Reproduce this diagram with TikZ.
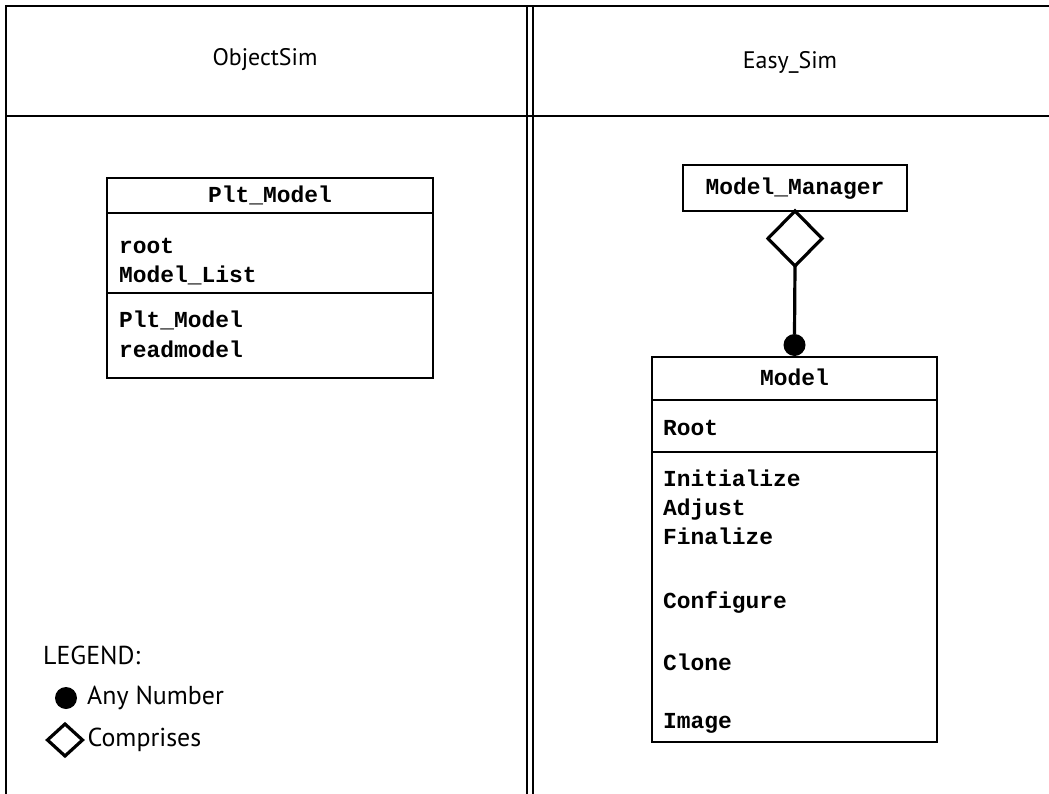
\documentclass[tikz,border=0pt]{standalone}
\usepackage{fontspec}
\setmainfont{PT Sans}
\newfontfamily\codefont{Liberation Mono}
\usetikzlibrary{shapes.geometric,positioning}

\tikzset{
  boxline/.style={draw, line width=2.4bp, outer sep=0pt, inner sep=0pt},
  code/.style={font=\codefont\bfseries\fontsize{23}{28}\selectfont, text height=13bp, text depth=0bp},
  codetext/.style={code, inner sep=0pt, anchor=west},
  headtext/.style={font=\fontsize{24}{28}\selectfont},
  legendtext/.style={font=\fontsize{26}{30}\selectfont, inner sep=0pt, anchor=west},
  comprises/.style={diamond, draw, line width=3.2bp, inner sep=0pt, outer sep=0pt, minimum width=54bp, minimum height=55bp},
  anynumber/.style={circle, fill, inner sep=0pt, outer sep=0pt, minimum size=22bp},
}

\begin{document}
\begin{tikzpicture}[x=1bp,y=-1bp]
  \useasboundingbox (0,0) rectangle (1049,794);

  % frame and columns
  \draw[line width=2.6bp] (1049,6) -- (6,6) -- (6,794);
  \draw[line width=2.6bp] (6,116) -- (1049,116);
  \draw[line width=1.6bp] (527,6) -- (527,794);
  \draw[line width=1.6bp] (533,6) -- (533,794);

  \node[headtext] (objsim) at (265,60) {ObjectSim};
  \node[headtext] (easysim) at (790,62) {Easy\_Sim};

  % Plt_Model class
  \node[boxline, code, minimum width=326bp, minimum height=35bp, anchor=north west] (pmtitle) at (107,178) {Plt\_Model};
  \node[boxline, minimum width=326bp, minimum height=80bp, below=0pt of pmtitle] (pmattr) {};
  \node[boxline, minimum width=326bp, minimum height=85bp, below=0pt of pmattr] (pmops) {};
  \node[codetext] (pmroot) at (119,247) {root};
  \node[codetext] (pmlist) at (119,276) {Model\_List};
  \node[codetext] (pmctor) at (119,321) {Plt\_Model};
  \node[codetext] (pmread) at (119,351) {readmodel};

  % Model_Manager comprises Model
  \node[boxline, code, minimum width=224bp, minimum height=46bp, anchor=north west] (mgr) at (683,165) {Model\_Manager};
  \node[comprises, anchor=north] (mgrdia) at (mgr.south) {};

  \node[boxline, code, minimum width=285bp, minimum height=43bp, anchor=north west] (mdtitle) at (652,357) {Model};
  \node[boxline, minimum width=285bp, minimum height=52bp, below=0pt of mdtitle] (mdattr) {};
  \node[boxline, minimum width=285bp, minimum height=290bp, below=0pt of mdattr] (mdops) {};
  \node[codetext] (mdroot) at (663,429) {Root};
  \node[codetext] (mdinit) at (663,480) {Initialize};
  \node[codetext] (mdadj) at (663,509) {Adjust};
  \node[codetext] (mdfin) at (663,538) {Finalize};
  \node[codetext] (mdconf) at (663,602) {Configure};
  \node[codetext] (mdclone) at (663,664) {Clone};
  \node[codetext] (mdimage) at (663,722) {Image};

  \node[anynumber] (mddot) at ([yshift=12bp]mdtitle.north) {};
  \draw[line width=3.2bp] (mgrdia.south) -- (mddot.north);

  % legend
  \node[legendtext] (legend) at (43,655) {LEGEND:};
  \node[anynumber] (legdot) at (66,698) {};
  \node[legendtext, right=10bp of legdot] (legany) {Any Number};
  \node[comprises, minimum width=35bp, minimum height=32bp] (legdia) at (65,740) {};
  \node[legendtext, right=5bp of legdia] (legcomp) {Comprises};
\end{tikzpicture}
\end{document}
